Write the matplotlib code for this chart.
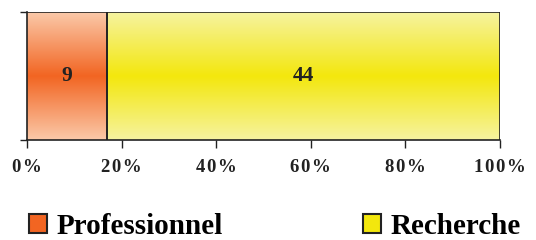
import numpy as np
import matplotlib.pyplot as plt
from matplotlib.colors import LinearSegmentedColormap
from matplotlib.patches import Patch

# data
categories = ['Professionnel', 'Recherche']
counts = [9, 44]
tick_values = [0, 20, 40, 60, 80, 100]
tick_labels = ['0%', '20%', '40%', '60%', '80%', '100%']
edge_colors = ['#fbc9a9', '#f6f3a0']
mid_colors = ['#f26522', '#f3e70d']

shares = [c / sum(counts) * 100 for c in counts]

plt.rcParams['font.family'] = ['Liberation Serif', 'DejaVu Serif']
plt.rcParams['font.weight'] = 'bold'

fig = plt.figure(figsize=(5.36, 2.4), dpi=100)
ax = fig.add_axes([27 / 536, 100 / 240, 473 / 536, 128 / 240])

left = 0
for i in range(len(counts)):
    bar = ax.barh(0, shares[i], left=left, height=1.0, color=mid_colors[i],
                  edgecolor='#222222', linewidth=1.2, zorder=3)[0]
    # vertical gradient: light at the edges, saturated in the middle
    cmap = LinearSegmentedColormap.from_list('g', [edge_colors[i], mid_colors[i], edge_colors[i]])
    grad = np.linspace(0, 1, 256).reshape(-1, 1)
    im = ax.imshow(grad, extent=[left, left + shares[i], -0.5, 0.5], aspect='auto',
                   cmap=cmap, origin='lower', zorder=3.5)
    im.set_clip_path(bar)
    # outline again on top of the gradient
    ax.barh(0, shares[i], left=left, height=1.0, fill=False,
            edgecolor='#222222', linewidth=1.2, zorder=4)
    ax.text(left + shares[i] / 2, 0, str(counts[i]), ha='center', va='center',
            fontsize=15.5, fontweight='bold', color='#222222', zorder=5)
    left += shares[i]

# spaced out tick labels like the original
spaced = ['\u200a'.join(t) for t in tick_labels]

ax.set_xlim(0, 100)
ax.set_ylim(-0.5, 0.5)
ax.set_xticks(tick_values)
ax.set_xticklabels(spaced, fontsize=13.5, fontweight='bold', color='#222222')
ax.set_yticks([-0.5, 0.5])
ax.set_yticklabels([])
ax.tick_params(axis='x', length=6, width=1, pad=8, colors='#222222')
ax.tick_params(axis='y', length=5, width=1, colors='#222222')
ax.spines['top'].set_visible(False)
ax.spines['right'].set_visible(False)
for s in ['left', 'bottom']:
    ax.spines[s].set_color('#222222')
    ax.spines[s].set_linewidth(1.2)

# one legend entry per category, placed like the original
legend_x = [29 / 536, 363 / 536]
for i in range(len(categories)):
    h = Patch(facecolor=mid_colors[i], edgecolor='#222222', linewidth=1.5)
    fig.legend([h], [categories[i]], loc='lower left', bbox_to_anchor=(legend_x[i], 0.0),
               frameon=False, handlelength=0.62, handleheight=0.62,
               handletextpad=0.31, borderpad=0, borderaxespad=0,
               prop={'weight': 'bold', 'size': 21})

fig.savefig('out.png', dpi=100)
